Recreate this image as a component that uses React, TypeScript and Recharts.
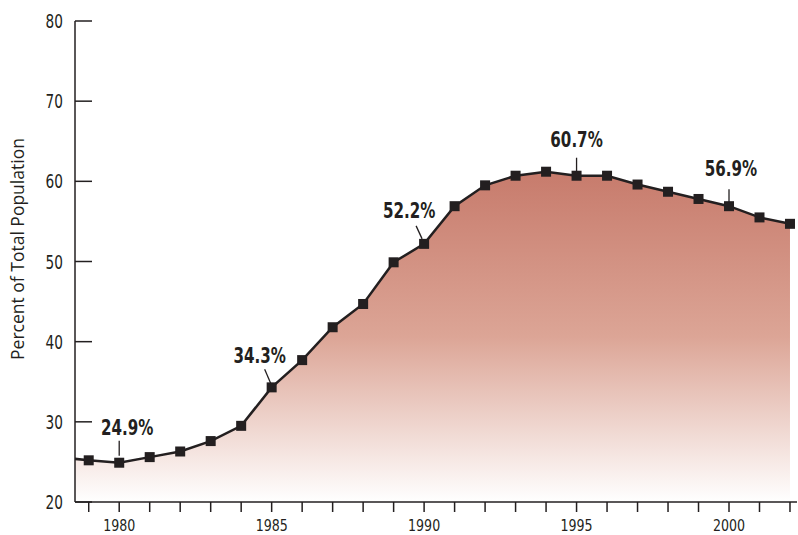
import { ComposedChart, Area, XAxis, YAxis, LabelList } from 'recharts';

const years = [
  1978, 1979, 1980, 1981, 1982, 1983, 1984, 1985, 1986, 1987, 1988, 1989, 1990,
  1991, 1992, 1993, 1994, 1995, 1996, 1997, 1998, 1999, 2000, 2001, 2002,
];
const percents = [
  25.6, 25.2, 24.9, 25.6, 26.3, 27.6, 29.5, 34.3, 37.7, 41.8, 44.7, 49.9, 52.2,
  56.9, 59.5, 60.7, 61.2, 60.7, 60.7, 59.6, 58.7, 57.8, 56.9, 55.5, 54.7,
];
const xTicks = years.filter((y) => y >= 1979);
const xLabelYears = [1980, 1985, 1990, 1995, 2000];
const yTicks = [20, 30, 40, 50, 60, 70, 80];
const calloutYears = [1980, 1985, 1990, 1995, 2000];

const data = years.map((year, i) => ({ year, pct: percents[i] }));

const INK = '#231f20';
const NARROW = '"Liberation Sans Narrow", "DejaVu Sans Condensed", sans-serif';

// text offset / leader line relative to the point
const calloutPos: Record<number, { dx: number; dy: number; l: number[] }> = {
  1980: { dx: 8, dy: -28, l: [0, -22, 0, -7] },
  1985: { dx: -12, dy: -24, l: [-7, -18, -1, -4] },
  1990: { dx: -15, dy: -26, l: [-8, -18, -2, -5] },
  1995: { dx: 0, dy: -29, l: [0, -18, 0, -3] },
  2000: { dx: 2, dy: -30, l: [0, -17, 0, -4] },
};

// squeeze text horizontally to mimic a condensed face
const squeeze = (x: number, y: number, s: number) => `translate(${x} ${y}) scale(${s} 1)`;

const YTick = (props: any) => {
  const { x, y, payload } = props;
  return (
    <g>
      <line x1={x} x2={x + 17} y1={y} y2={y} stroke={INK} strokeWidth={1.5} />
      <text transform={squeeze(x - 12, y + 7, 0.8)} textAnchor="end" fontFamily={NARROW} fontSize={19} fill={INK}>
        {payload.value}
      </text>
    </g>
  );
};

const XTick = (props: any) => {
  const { x, payload } = props;
  if (!xLabelYears.includes(payload.value)) return <g />;
  return (
    <text transform={squeeze(x, 531, 0.85)} textAnchor="middle" fontFamily={NARROW} fontSize={16.5} fill={INK}>
      {payload.value}
    </text>
  );
};

const Dot = (props: any) => {
  const { cx, cy, payload, index } = props;
  if (payload.year < 1979) return <g key={index} />;
  return <rect key={index} x={cx - 5} y={cy - 5} width={10} height={10} fill={INK} />;
};

const Callout = (props: any) => {
  const { x, y, index, value } = props;
  const year = years[index];
  if (!calloutYears.includes(year)) return null;
  const p = calloutPos[year];
  return (
    <g>
      <line x1={x + p.l[0]} y1={y + p.l[1]} x2={x + p.l[2]} y2={y + p.l[3]} stroke={INK} strokeWidth={1.3} />
      <text transform={squeeze(x + p.dx, y + p.dy, 0.82)} textAnchor="middle" fontFamily={NARROW} fontWeight="bold" fontSize={20.5} fill={INK}>
        {value.toFixed(1)}%
      </text>
    </g>
  );
};

export default function App() {
  return (
    <div style={{ position: 'absolute', left: 0, top: 0, background: '#fff' }}>
      <ComposedChart width={798} height={535} data={data} margin={{ top: 21, right: 1, bottom: 0, left: 0 }}>
        <defs>
          <linearGradient id="fill" x1="0" y1="0" x2="0" y2="1">
            <stop offset="0%" stopColor="#c77b6c" />
            <stop offset="50%" stopColor="#dca596" />
            <stop offset="100%" stopColor="#ffffff" />
          </linearGradient>
        </defs>
        <XAxis
          dataKey="year"
          type="number"
          height={33}
          domain={[1978.55, 2002.23]}
          allowDataOverflow
          ticks={xTicks}
          interval={0}
          tickSize={10}
          tickMargin={0}
          tick={<XTick />}
          axisLine={{ stroke: INK, strokeWidth: 1.5 }}
          tickLine={{ stroke: INK, strokeWidth: 1.5 }}
        />
        <YAxis
          width={75}
          domain={[20, 80]}
          ticks={yTicks}
          interval={0}
          tickSize={0}
          tickMargin={0}
          tickLine={false}
          tick={<YTick />}
          axisLine={{ stroke: INK, strokeWidth: 1.5 }}
          label={{
            content: () => (
              <text x={24} y={249} transform="rotate(-90 24 249)" textAnchor="middle" fontFamily='"Open Sans", sans-serif' fontSize={17.5} fill={INK}>
                Percent of Total Population
              </text>
            ),
          }}
        />
        <Area
          type="linear"
          dataKey="pct"
          stroke={INK}
          strokeWidth={2.5}
          fill="url(#fill)"
          fillOpacity={1}
          dot={Dot}
          activeDot={false}
          isAnimationActive={false}
        >
          <LabelList dataKey="pct" content={Callout} />
        </Area>
      </ComposedChart>
    </div>
  );
}
